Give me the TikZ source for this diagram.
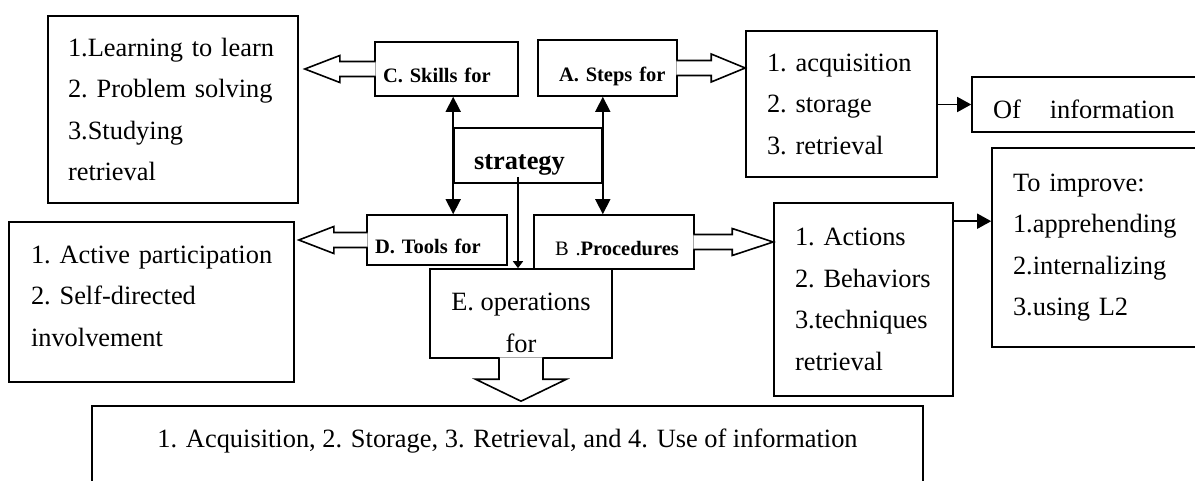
\documentclass[tikz,border=0pt]{standalone}
\usepackage{fontspec}
\setmainfont{Liberation Serif}
\usepackage{tikz}
\usetikzlibrary{arrows.meta, calc, positioning}
\hyphenpenalty=10000
\exhyphenpenalty=10000
\tikzset{
	plaintext/.style={font=\fontsize{26.4}{41.5}\selectfont}
}
\tikzset{
	boldtext/.style={font=\fontsize{20.5}{24}\selectfont\bfseries}
}
\newcommand{\fatarrow}[5]{%
  \draw[fatline] let \p1=(#1), \p2=(#2),
    \n1={atan2(\y2-\y1,\x2-\x1)}, \n2={veclen(\x2-\x1,\y2-\y1)} in
    [shift={(\p1)}, rotate=\n1]
    (-1.5,#3) -- ({\n2-#5},#3) -- ({\n2-#5},#4) -- (\n2,0)
    -- ({\n2-#5},-#4) -- ({\n2-#5},-#3) -- (-1.5,-#3);%
}

\begin{document}
\begin{tikzpicture}[x=1pt, y=-1pt]

  \tikzset{
    infobox/.style={draw, line width=1.6pt, rectangle, inner ysep=0pt, align=left, plaintext},
    tagbox/.style={draw, line width=1.6pt, rectangle, inner ysep=0pt, align=left, boldtext,
      text height=32pt, text depth=4pt},
    corebox/.style={draw, line width=1.6pt, rectangle, inner ysep=0pt, align=left,
      font=\bfseries\fontsize{26.4}{30}\selectfont, text height=32pt, text depth=3pt},
    fatline/.style={draw, line width=1.6pt, fill=white, line join=miter},
    linkarrow/.style={line width=1.6pt, -{Triangle[length=14pt,width=15pt]}},
    twoway/.style={line width=1.6pt, {Triangle[length=15pt,width=15pt]}-{Triangle[length=15pt,width=15pt]}}
  }

  \useasboundingbox (0,0) rectangle (1195,481);
  \clip (0,0) rectangle (1195,481);

  \node[infobox, minimum height=187pt, text width=210pt, inner xsep=20pt] (learn) at (173,109.5)
    {1.Learning~to~learn\\2.~Problem~solving\\3.Studying\\retrieval};
  \node[tagbox, minimum height=54pt, text width=127pt, inner xsep=8pt] (skills) at (446.5,69) {C.~Skills~for};
  \node[tagbox, minimum height=56pt, text width=97pt, inner xsep=21pt] (steps) at (607.5,68) {A.~Steps~for};
  \node[infobox, minimum height=146pt, text width=149pt, inner xsep=21pt] (acq) at (841.5,104)
    {1.~acquisition\\2.~storage\\3.~retrieval};
  \node[infobox, minimum height=55pt, text width=226pt, inner xsep=21pt, text height=30pt, text depth=1.6pt]
    (ofinfo) at (1106,104.5) {Of\hspace{1.1em}information};
  \node[infobox, minimum height=199pt, text width=206pt, inner xsep=21pt] (improve) at (1116,247.5)
    {To~improve:\\1.apprehending\\2.internalizing\\3.using~L2};

  \node[corebox, minimum height=55pt, text width=108pt, inner xsep=20pt] (strategy) at (528,155.5) {strategy};

  \node[tagbox, minimum height=50pt, text width=124pt, inner xsep=8pt] (tools) at (437,240) {D.~Tools~for};
  \node[tagbox, minimum height=54pt, text width=118pt, inner xsep=21pt] (procs) at (614,242) {{\mdseries B~.}Procedures};
  \node[infobox, minimum height=160pt, text width=241pt, inner xsep=22pt, text depth=95pt] (active) at (151.5,302)
    {1.~Active~participation\\2.~Self-directed\\involvement};
  \node[infobox, minimum height=193pt, text width=137pt, inner xsep=21pt] (actions) at (863.5,299.5)
    {1.~Actions\\2.~Behaviors\\3.techniques\\retrieval};
  \node[draw, line width=1.6pt, minimum width=182pt, minimum height=89pt, inner sep=0pt,
    label={[name=opstext, align=center, plaintext, yshift=-9.5pt]center:E.~operations\\for}] (ops) at (521,313.5) {};
  \node[infobox, align=center, minimum width=831pt, minimum height=104pt, inner sep=0pt,
    text height=20pt, text depth=42pt] (use) at (507.5,458)
    {1. Acquisition, 2. Storage, 3. Retrieval, and 4. Use of information};

  \draw[twoway] (strategy.north west |- skills.south) -- (strategy.south west |- tools.north);
  \draw[twoway] (strategy.north east |- steps.south) -- (strategy.south east |- procs.north);

  \coordinate (drop) at (518,177);
  \draw[line width=1.6pt, -{Triangle[length=7pt,width=10pt]}] (drop) -- (drop |- ops.north);

  \coordinate (linkout) at ($(actions.north east)+(0,19)$);
  \draw[linkarrow] (acq.east |- ofinfo.west) -- (ofinfo.west);
  \draw[linkarrow] (linkout) -- (linkout -| improve.west);

  \fatarrow{skills.west}{$(skills.west -| learn.east)+(6,0)$}{7.5}{13.5}{35}
  \fatarrow{steps.east}{steps.east -| acq.west}{7.5}{14}{34}
  \fatarrow{tools.west}{$(tools.west -| active.east)+(4,0)$}{7.5}{13.5}{35}
  \fatarrow{procs.east}{procs.east -| actions.west}{7.5}{13.5}{41}
  \fatarrow{ops.south}{$(ops.south |- use.north)+(0,-4)$}{22}{45.5}{22}

\end{tikzpicture}
\end{document}
